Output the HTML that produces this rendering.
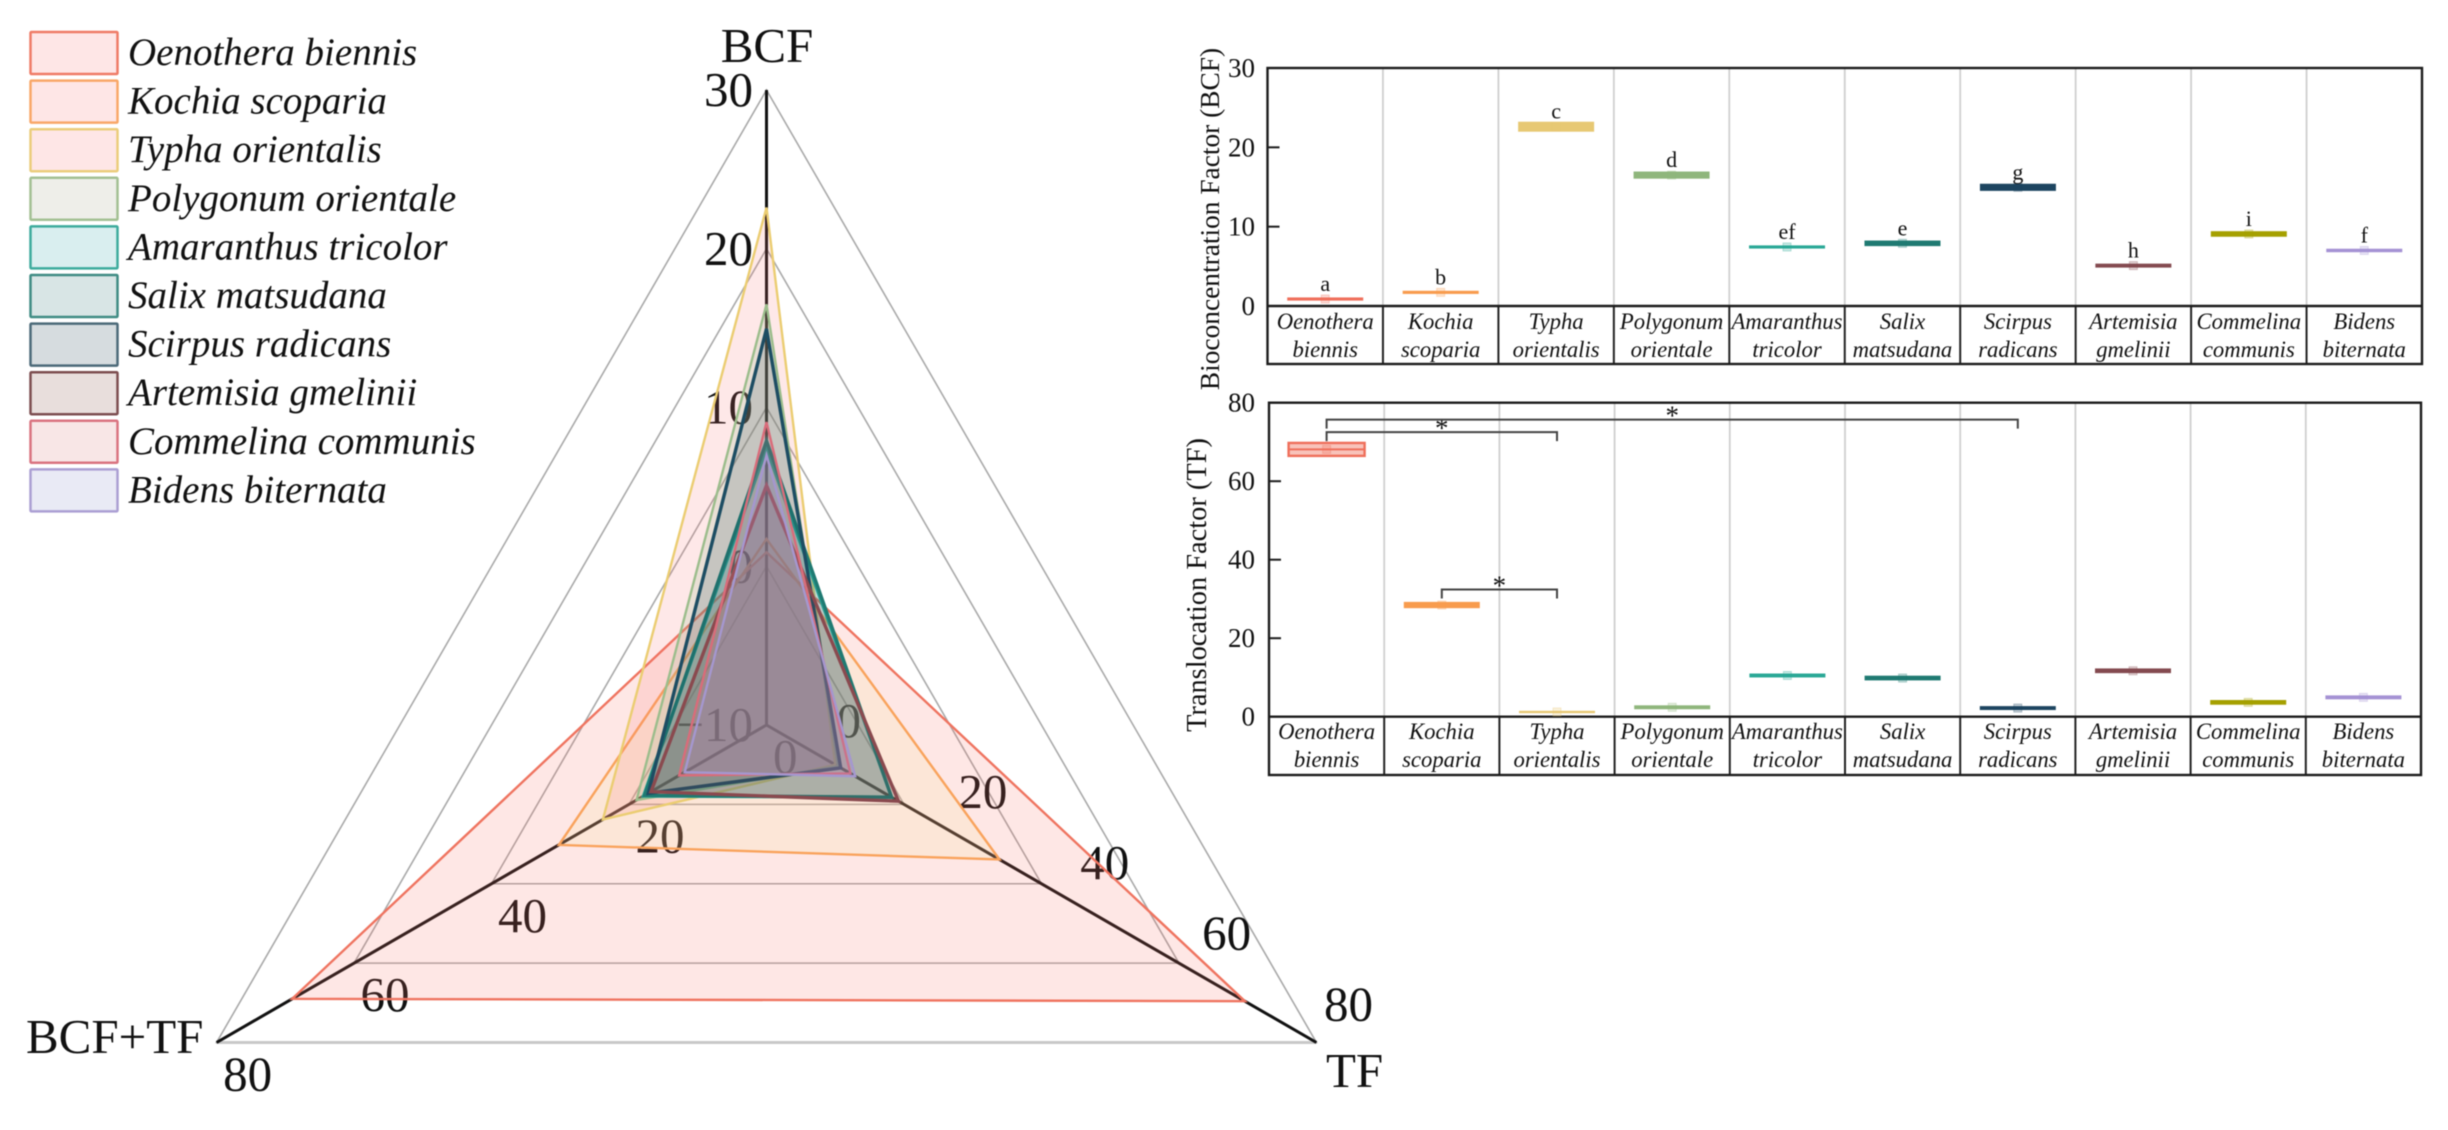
<!DOCTYPE html>
<html lang="en">
<head>
<meta charset="utf-8">
<title>BCF and TF radar and bar charts</title>
<style>
html,body{margin:0;padding:0;background:#fff;}
svg{display:block;filter:blur(0.55px);}
text{font-family:"Liberation Serif",serif;fill:#111;}
</style>
</head>
<body>
<svg id="figure" xmlns="http://www.w3.org/2000/svg" width="2448" height="1130" viewBox="0 0 2448 1130">
<rect width="2448" height="1130" fill="#fff"/>
<g id="radar"></g>
<g id="legend"></g>
<g id="bcf-panel"></g>
<g id="tf-panel"></g>
</svg>
<script>
// ---- data ----
const speciesLines = [["Oenothera","biennis"],["Kochia","scoparia"],["Typha","orientalis"],["Polygonum","orientale"],["Amaranthus","tricolor"],["Salix","matsudana"],["Scirpus","radicans"],["Artemisia","gmelinii"],["Commelina","communis"],["Bidens","biternata"]];
const bcfValues = [0.88,1.72,22.6,16.5,7.44,7.9,14.96,5.09,9.08,7.0];
const bcfSpread = [0.2,0.2,0.63,0.45,0.2,0.35,0.45,0.25,0.35,0.22];
const bcfLetters = ["a","b","c","d","ef","e","g","h","i","f"];
const tfValues = [68.1,28.45,1.2,2.4,10.5,9.85,2.2,11.7,3.65,4.93];
const tfSpread = [1.65,0.8,0.3,0.5,0.5,0.6,0.5,0.6,0.6,0.5];
const radarBCF = [0.88,1.72,22.6,16.5,7.44,7.9,14.96,5.09,9.08,7.0];
const radarTF = [69.6,33.9,10,10.4,18.2,18.2,10.8,19.2,12.2,12.9];
const radarSum = [69,30.2,23.8,18.9,17.9,17.75,17.2,16.8,12.7,11.9];
const radarBcfTicks = [-10,0,10,20,30];
const radarTfTicks = [0,20,40,60,80];
const radarSumTicks = [0,20,40,60,80];
const bcfTicks = [0,10,20,30];
const tfTicks = [0,20,40,60,80];
const sigSpecies = [[0,2,72.5],[0,6,75.7],[1,2,32.4]];

// ---- styles ----
const lineColors = ["#ef7460","#f9a35c","#ebcd72","#9cbd8c","#2ba899","#1f7a72","#1d4d63","#8a4a4f","#d96c7a","#a597cf"];
const fillColors = ["rgba(248,110,100,.17)","rgba(240,225,140,.16)","rgba(250,120,120,.17)","rgba(150,190,140,.2)","rgba(60,170,170,.18)","rgba(30,120,110,.17)","rgba(30,70,90,.17)","rgba(120,70,75,.2)","rgba(220,110,125,.2)","rgba(150,140,210,.2)"];
const legendFills = ["#fee6e6","#fee6e6","#fee6e6","#eeeee9","#d9eeef","#d8e5e5","#d6dcdf","#e8dedc","#f8e6e6","#e9eaf5"];
const legendBorders = ["#ef7b66","#f9a768","#ebcd7c","#a3c093","#3dab9d","#3f8c84","#4c6a79","#7d4e50","#da7380","#ab9fd3"];
const barColors = ["#ef6f5b","#f89c4e","#e7c873","#8fb67c","#2aa896","#1f7a72","#1d4560","#844a50","#a5a000","#a592d4"];

const NS = "http://www.w3.org/2000/svg";
function mk(parent, tag, attrs, txt){
  const el = document.createElementNS(NS, tag);
  for (const k in attrs) el.setAttribute(k, attrs[k]);
  if (txt !== undefined) el.textContent = txt;
  parent.appendChild(el);
  return el;
}

// ---- radar ----
const radar = document.getElementById("radar");
const CX = 766.5, CY = 725, R = 635;
const COS30 = Math.cos(Math.PI/6);
function bcfR(v){ return (v+10)/40*R; }
function pctR(v){ return v/80*R; }
function bcfPt(v){ return [CX, CY-bcfR(v)]; }
function tfPt(v){ const r=pctR(v); return [CX+r*COS30, CY+r/2]; }
function sumPt(v){ const r=pctR(v); return [CX-r*COS30, CY+r/2]; }

[1,2,3,4].forEach(function(k){
  const r = R*k/4;
  const pts = [[CX,CY-r],[CX+r*COS30,CY+r/2],[CX-r*COS30,CY+r/2]].map(function(p){return p.join(",");}).join(" ");
  const g = mk(radar,"polygon",{points:pts,fill:"none",stroke:"#a9a9a9","stroke-width":1.6});
  
  
});
const outerBase = mk(radar,"line",{x1:sumPt(80)[0],y1:sumPt(80)[1],x2:tfPt(80)[0],y2:tfPt(80)[1],stroke:"#c8c8c8","stroke-width":3});



[bcfPt(30),tfPt(80),sumPt(80)].forEach(function(p,i){
  const a = mk(radar,"line",{x1:CX,y1:CY,x2:p[0],y2:p[1],stroke:"#111","stroke-width":3});
  
  
});

radarBcfTicks.forEach(function(v){
  const p = bcfPt(v);
  const t = mk(radar,"text",{x:753,y:p[1]+16,"text-anchor":"end","font-size":49},v<0?"\u2212"+(-v):String(v));
  
  
});
radarTfTicks.forEach(function(v){
  const p = tfPt(v);
  const t = mk(radar,"text",{x:p[0]+70-0.78*v,y:p[1]+12-0.425*v,"font-size":49},String(v));
  
  
});
radarSumTicks.forEach(function(v){
  const p = sumPt(v);
  const t = mk(radar,"text",{x:p[0]+6.5,y:p[1]+48,"font-size":49},String(v));
  
  
});

const titleBcf = mk(radar,"text",{x:767,y:62,"text-anchor":"middle","font-size":49},"BCF");


const titleTf = mk(radar,"text",{x:1326,y:1087,"font-size":49},"TF");


const titleSum = mk(radar,"text",{x:26,y:1053,"font-size":49},"BCF+TF");



radarBCF.forEach(function(b,i){
  const pts = [bcfPt(b),tfPt(radarTF[i]),sumPt(radarSum[i])].map(function(p){return p[0].toFixed(1)+","+p[1].toFixed(1);}).join(" ");
  const poly = mk(radar,"polygon",{points:pts,fill:fillColors[i],stroke:lineColors[i],"stroke-width":i>=4&&i<=7?3.4:2.4,"stroke-linejoin":"miter"});
  
  
});

// ---- legend ----
const legend = document.getElementById("legend");
speciesLines.forEach(function(s,i){
  const y = 32 + i*48.6;
  const sw = mk(legend,"rect",{x:30.5,y:y,width:87,height:42,rx:1,fill:legendFills[i],stroke:legendBorders[i],"stroke-width":2.5});
  
  
  const t = mk(legend,"text",{x:128,y:y+33,"font-size":39,"font-style":"italic"},s.join(" "));
  
  
});

// ---- bar panels ----
function panel(root, cfg){
  const xLeft = cfg.left, xRight = cfg.right;
  const step = (xRight-xLeft)/speciesLines.length;
  const xCenter = function(i){ return xLeft+step*(i+0.5); };
  const yVal = function(v){ return cfg.zero-(cfg.zero-cfg.top)*v/cfg.max; };

  for (let i=1;i<speciesLines.length;i++){
    const x = xLeft+step*i;
    const up = mk(root,"line",{x1:x,y1:cfg.top,x2:x,y2:cfg.zero,stroke:"#cfcfcf","stroke-width":1.8});
    
    
    const dn = mk(root,"line",{x1:x,y1:cfg.zero,x2:x,y2:cfg.bottom,stroke:"#222","stroke-width":2});
    
    
  }
  const frame = mk(root,"rect",{x:xLeft,y:cfg.top,width:xRight-xLeft,height:cfg.bottom-cfg.top,fill:"none",stroke:"#1c1c1c","stroke-width":2.4});
  
  
  const zl = mk(root,"line",{x1:xLeft,y1:cfg.zero,x2:xRight,y2:cfg.zero,stroke:"#1c1c1c","stroke-width":2.4});
  
  

  cfg.ticks.forEach(function(v){
    const y = yVal(v);
    const lab = mk(root,"text",{x:1255,y:y+9,"text-anchor":"end","font-size":27},String(v));
    
    
    if (v>0 && v<cfg.max){
      const tk = mk(root,"line",{x1:xLeft,y1:y,x2:xLeft+12,y2:y,stroke:"#1c1c1c","stroke-width":2});
      
      
    }
  });

  const title = mk(root,"text",{transform:"translate("+cfg.titleX+" "+cfg.titleY+") rotate(-90)","text-anchor":"middle","font-size":cfg.titleSize},cfg.title);
  
  

  cfg.values.forEach(function(v,i){
    const cx = xCenter(i);
    const top = yVal(v+cfg.spread[i]), bot = yVal(v-cfg.spread[i]);
    const hollow = cfg.hollow===i;
    const bar = mk(root,"rect",{x:cx-38,y:top,width:76,height:bot-top,fill:hollow?"rgba(239,111,91,.42)":barColors[i],stroke:hollow?barColors[i]:"none","stroke-width":hollow?2.4:0});
    
    
    const mean = mk(root,"rect",{x:cx-4,y:yVal(v)-4,width:8,height:8,fill:barColors[i],"fill-opacity":.25,stroke:barColors[i],"stroke-opacity":.3,"stroke-width":1});
    
    
    if (hollow){
      const med = mk(root,"line",{x1:cx-38,x2:cx+38,y1:yVal(v),y2:yVal(v),stroke:barColors[i],"stroke-width":2});
      
      
    }
    if (cfg.letters){
      const lt = mk(root,"text",{x:cx,y:yVal(v)-8,"text-anchor":"middle","font-size":22},cfg.letters[i]);
      
      
    }
    speciesLines[i].forEach(function(word,j){
      const cat = mk(root,"text",{x:cx,y:cfg.labelY+j*28,"text-anchor":"middle","font-size":22.7,"font-style":"italic"},word);
      
      
    });
  });

  if (cfg.brackets){
    cfg.brackets.forEach(function(b,k){
      const x1 = xCenter(b[0]), x2 = xCenter(b[1]), y = yVal(b[2]);
      const br = mk(root,"path",{d:"M"+x1+" "+(y+9)+"V"+y+"H"+x2+"V"+(y+9),fill:"none",stroke:"#444","stroke-width":2});
      
      
      const st = mk(root,"text",{x:(x1+x2)/2,y:y+5,"text-anchor":"middle","font-size":27,fill:"#333"},"*");
      
      
    });
  }
}

panel(document.getElementById("bcf-panel"),{
  key:"bcf",left:1267.5,right:2422,top:68,zero:306,bottom:364,max:30,ticks:bcfTicks,
  values:bcfValues,spread:bcfSpread,letters:bcfLetters,labelY:329,
  title:"Bioconcentration Factor (BCF)",titleX:1219,titleY:219,titleSize:27.4
});
panel(document.getElementById("tf-panel"),{
  key:"tf",left:1269,right:2421,top:402.7,zero:716.7,bottom:775,max:80,ticks:tfTicks,
  values:tfValues,spread:tfSpread,hollow:0,labelY:739,brackets:sigSpecies,
  title:"Translocation Factor (TF)",titleX:1206,titleY:585,titleSize:28.4
});
</script>
</body>
</html>
